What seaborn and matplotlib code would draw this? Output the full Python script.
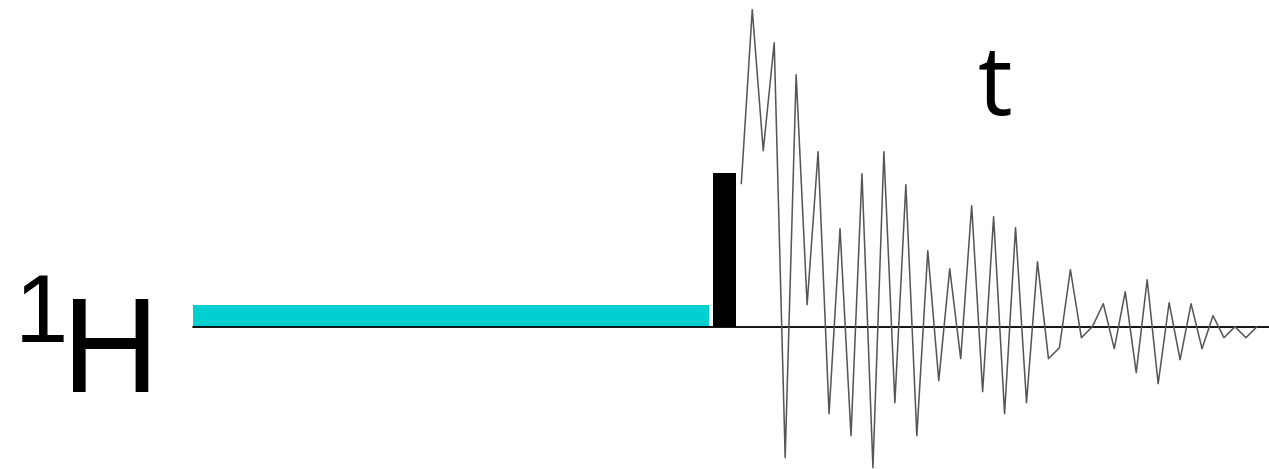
import numpy as np
import pandas as pd
import seaborn as sns
import matplotlib.pyplot as plt

# pulse sequence events (time axis in arbitrary units, amplitude up from baseline)
sat_start, sat_end, sat_height = 193, 709, 22
pulse_start, pulse_end, pulse_height = 713, 736, 154
fid_start, dwell = 741.3, 10.97
baseline_end = 1269

fid_amp = [143, 317, 176, 284, -131, 252, 22, 175, -87, 98,
           -109, 153, -141, 175, -76, 142, -109, 76, -54, 58,
           -32, 121, -65, 110, -87, 99, -76, 65, -32, -21,
           57, -11, 0, 23, -22, 35, -46, 47, -57, 24,
           -33, 23, -22, 11, -11, 0, -11, 0]

fid = pd.DataFrame({'t': fid_start + dwell * np.arange(len(fid_amp)),
                    'amp': fid_amp})

sns.set_style('white')
fig = plt.figure(figsize=(12.69, 4.69), dpi=100)
ax = fig.add_axes([0, 0, 1, 1])

# saturation block and 90 degree pulse
ax.bar([sat_start], [sat_height], width=sat_end - sat_start, align='edge',
       color='#00d0d0', lw=0, zorder=2)
ax.bar([pulse_start], [pulse_height], width=pulse_end - pulse_start, align='edge',
       color='black', lw=0, zorder=2)
# baseline on top of the blocks
ax.plot([sat_start, baseline_end], [0, 0], color='black', lw=1.3, zorder=3)
# FID
sns.lineplot(data=fid, x='t', y='amp', color='#555555', lw=1.1, ax=ax, zorder=4)

sans = ['Liberation Sans', 'DejaVu Sans']
ax.text(15, -15, '1', fontsize=69, family=sans, color='black', va='baseline', ha='left')
ax.text(62, -65, 'H', fontsize=97, family=sans, color='black', va='baseline', ha='left')
ax.text(995, 212, 't', fontsize=70, family='Open Sans', color='black',
        va='baseline', ha='center')

ax.set_xlim(0, 1269)
ax.set_ylim(-142.3, 326.7)
ax.axis('off')

fig.savefig('out.png', dpi=100)
